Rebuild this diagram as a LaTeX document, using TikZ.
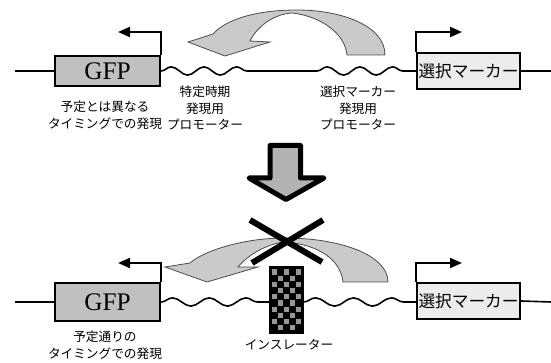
\documentclass[tikz,border=0pt]{standalone}
\usepackage{fontspec}
\setmainfont{Liberation Serif}
\newfontfamily\jp{Noto Sans CJK JP}
\usetikzlibrary{arrows.meta,decorations.pathmorphing}
\definecolor{boxgray}{RGB}{192,192,192}
\definecolor{lightbox}{RGB}{236,236,236}
\definecolor{arrowgray}{RGB}{202,202,202}
\definecolor{biggray}{RGB}{178,178,178}
\definecolor{checkgray}{RGB}{150,150,150}
\begin{document}
\begin{tikzpicture}[x=0.75pt,y=-0.75pt,
  gfpbox/.style={draw, line width=1.6pt, fill=boxgray, minimum width=78.75pt, inner sep=0pt, font=\fontsize{19}{19}\selectfont},
  markerbox/.style={draw, line width=1.6pt, fill=lightbox, minimum width=77.25pt, inner sep=0pt, font=\jp\fontsize{12.5}{12.5}\selectfont},
  dna/.style={line width=1.2pt},
  wave/.style={dna, decorate, decoration={snake, amplitude=3.1pt, segment length=#1}},
  promoter/.style={line width=1.5pt, -{Triangle[length=9pt,width=7.5pt]}},
  jplabel/.style={font=\jp\fontsize{9.5}{12.4}\selectfont, align=center, inner sep=0pt},
  curved/.style={fill=arrowgray, draw=black!70, line width=0.6pt},
  cross/.style={line width=4.5pt}]
\useasboundingbox (0,0) rectangle (551,363);

% ---------- top row ----------
\node[gfpbox, minimum height=22.5pt] (gfp1) at (107.5,71) {GFP};
\node[markerbox, minimum height=27pt] (mk1) at (468.5,71) {選択マーカー};
\coordinate (l1) at (15,71);
\coordinate (r1) at (551,71);
\coordinate (w1) at (258,71);
\coordinate (w2) at (317,71);
\draw[dna] (l1) -- (gfp1.west);
\draw[dna] (mk1.east) -- (r1);
\draw[wave=24.5pt] (gfp1.east) -- (w1);
\draw[dna] (w1) -- (w2);
\draw[wave=24.5pt] (w2) -- (mk1.west);
\coordinate (p1) at (118,32);
\coordinate (p2) at (462,32);
\draw[promoter] (gfp1.north east) |- (p1);
\draw[promoter] (mk1.north west) |- (p2);

% top curved arrow
\draw[curved] (385,55) .. controls (385,25) and (340,10) .. (297,10)
  .. controls (255,10) and (225,20) .. (213,34)
  -- (188,42) -- (225,56) -- (270,42) -- (250,41)
  .. controls (258,25) and (275,14) .. (292,13)
  .. controls (320,16) and (345,33) .. (347,55) -- cycle;

\node[jplabel] (t1) at (105,115) {予定とは異なる\\タイミングでの発現};
\node[jplabel] (t2) at (205,108) {特定時期\\発現用\\プロモーター};
\node[jplabel] (t3) at (358,108) {選択マーカー\\発現用\\プロモーター};

% ---------- big down arrow ----------
\draw[line width=3.75pt, line join=round, fill=biggray]
  (270,145.5) -- (300.5,145.5) -- (300.5,178) -- (324,178) -- (286,199.5)
  -- (249,178) -- (270,178) -- cycle;

% ---------- bottom row ----------
\draw[curved] (388,282) .. controls (388,255) and (340,238) .. (285,238)
  .. controls (245,238) and (205,250) .. (190,263)
  -- (165,267) -- (207,282) -- (258,267) -- (238,267)
  .. controls (248,255) and (265,245) .. (283,242)
  .. controls (310,243) and (340,255) .. (343,282) -- cycle;

\draw[cross] (250,220) -- (322,262);
\draw[cross] (323,220) -- (252,263);

\node[gfpbox, minimum height=28.5pt] (gfp2) at (107.5,302) {GFP};
\node[markerbox, minimum height=27pt] (mk2) at (468.5,301) {選択マーカー};
\node[draw=black, fill=black, line width=1pt, minimum width=24.75pt, minimum height=49.5pt, inner sep=0pt] (ins) at (286.5,300) {};
\foreach \i in {0,...,4}{\foreach \j in {0,...,9}{%
  \pgfmathtruncatemacro\chk{mod(\i+\j,2)}%
  \ifnum\chk=0 \fill[checkgray] ({272.3+\i*5.8},{269.4+\j*6.2}) rectangle ++(5.0,5.2);\fi}}
\coordinate (l2) at (15,302);
\coordinate (r2) at (551,302);
\draw[dna] (l2) -- (gfp2.west);
\draw[dna] (mk2.east) -- (r2);
\draw[wave=27.5pt] (gfp2.east) -- (ins.west |- gfp2.east);
\draw[wave=28.5pt] (ins.east |- gfp2.east) -- (mk2.west |- gfp2.east);
\coordinate (p3) at (118,263);
\coordinate (p4) at (462,263);
\draw[promoter] (gfp2.north east) |- (p3);
\draw[promoter] (mk2.north west) |- (p4);

\node[jplabel] (t4) at (105,345) {予定通りの\\タイミングでの発現};
\node[jplabel] (t5) at (289,345) {インスレーター};
\end{tikzpicture}
\end{document}
